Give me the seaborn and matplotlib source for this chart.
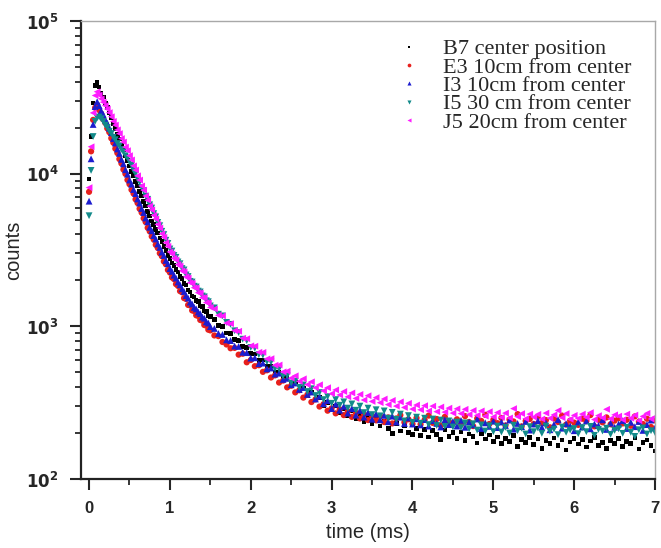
import numpy as np
import pandas as pd
import seaborn as sns
import matplotlib.pyplot as plt
from matplotlib.ticker import FixedLocator, FixedFormatter, MultipleLocator, NullFormatter

# sampling grid of the decay measurement (ms)
time_ms = np.round(np.concatenate([np.arange(0, 1.5001, 0.025),
                                   np.arange(1.55, 7.0001, 0.05)]), 3)

# counts, one list per detector position
b7 = [9200, 17500, 29000, 37800,
      39600, 36900, 33800, 31700, 29100, 27200, 25000,
      23300, 21200, 19800, 18100, 16900, 15400, 14350, 13100, 12200, 11250,
      10350, 9680, 8900, 8310, 7640, 7140, 6560, 6140, 5630, 5280,
      4890, 4640, 4300, 4090, 3780, 3590, 3320, 3150, 2920, 2770,
      2600, 2510, 2350, 2270, 2120, 2050, 1910, 1860, 1730, 1680,
      1580, 1560, 1470, 1450, 1360, 1350, 1260, 1250, 1170, 1160,
      1110, 1010, 995, 905, 893, 821, 806, 738, 725, 662,
      659, 598, 601, 547, 550, 497, 502, 455, 461, 415,
      428, 381, 395, 352, 367, 329, 341, 304, 318, 283,
      301, 270, 288, 259, 279, 247, 266, 238, 257, 229,
      246, 222, 239, 214, 198, 231, 206, 222, 201, 196,
      215, 193, 211, 188, 207, 196, 182, 209, 190, 201,
      184, 203, 178, 197, 189, 172, 199, 183, 194, 176,
      188, 170, 184, 176, 192, 163, 181, 174, 187, 168,
      183, 159, 178, 171, 186, 166, 180, 155, 175, 184,
      169, 181, 162, 177, 187, 165, 174, 158, 179, 171,
      184, 163, 176, 170, 186, 157, 173, 180, 166, 152]

e3 = [7600, 14000, 22500, 27000,
      28200, 26100, 24700, 22700, 21500, 19800, 18700,
      17050, 15950, 14580, 13650, 12460, 11670, 10640, 9970, 9100, 8530,
      7840, 7410, 6790, 6420, 5890, 5560, 5100, 4820, 4420, 4190,
      3880, 3700, 3420, 3260, 3010, 2880, 2660, 2550, 2340, 2250,
      2090, 2040, 1890, 1840, 1700, 1670, 1530, 1510, 1380, 1370,
      1270, 1260, 1180, 1170, 1100, 1090, 1020, 1010, 950, 940,
      871, 862, 789, 760, 718, 722, 652, 661, 581, 601,
      548, 556, 503, 515, 462, 477, 428, 441, 398, 408,
      369, 381, 341, 356, 319, 332, 298, 309, 280, 290,
      269, 286, 262, 277, 255, 271, 249, 265, 243, 259,
      242, 258, 236, 253, 231, 249, 262, 235, 246, 229,
      251, 228, 244, 260, 233, 247, 224, 255, 238, 231,
      246, 227, 258, 236, 222, 249, 240, 263, 229, 244,
      232, 251, 224, 245, 238, 266, 221, 240, 247, 229,
      255, 232, 243, 218, 249, 236, 260, 227, 241, 234,
      226, 248, 239, 262, 221, 244, 235, 253, 228, 241,
      250, 231, 244, 223, 257, 237, 229, 248, 219, 242]

i3 = [6600, 12500, 21000, 27500,
      29600, 27900, 25800, 24400, 22600, 21400, 19850,
      18550, 16950, 15860, 14500, 13560, 12400, 11590, 10600, 9910, 9080,
      8530, 7870, 7400, 6820, 6410, 5910, 5560, 5120, 4830, 4450,
      4220, 3930, 3730, 3460, 3290, 3060, 2910, 2700, 2570, 2390,
      2290, 2160, 2070, 1950, 1870, 1760, 1690, 1590, 1530, 1440,
      1400, 1330, 1300, 1240, 1210, 1150, 1130, 1070, 1050, 995,
      968, 897, 884, 815, 806, 742, 738, 676, 672, 619,
      622, 569, 574, 526, 533, 486, 493, 449, 456, 414,
      425, 386, 397, 358, 371, 334, 348, 311, 326, 289,
      309, 282, 299, 270, 289, 262, 281, 254, 272, 246,
      266, 244, 261, 237, 258, 236, 254, 231, 251, 229,
      248, 226, 245, 222, 241, 231, 219, 244, 227, 238,
      222, 242, 218, 236, 226, 247, 214, 233, 221, 239,
      217, 236, 224, 243, 212, 231, 220, 238, 209, 229,
      241, 218, 233, 210, 228, 245, 215, 230, 222, 207,
      236, 219, 240, 213, 229, 224, 244, 211, 232, 218,
      229, 241, 214, 235, 220, 238, 208, 227, 243, 216]

i5 = [5300, 10500, 17500, 22000,
      23200, 23500, 22900, 21950, 20800, 20050, 18950,
      18300, 17300, 16700, 15750, 15230, 14380, 13880, 13100, 12670, 11950,
      11350, 10500, 9980, 9220, 8790, 8100, 7730, 7120, 6790, 6250,
      5950, 5470, 5210, 4790, 4560, 4190, 3990, 3660, 3490, 3210,
      3110, 2910, 2830, 2640, 2570, 2390, 2340, 2170, 2120, 1970,
      1950, 1830, 1810, 1700, 1680, 1580, 1560, 1470, 1450, 1360,
      1320, 1200, 1170, 1060, 1030, 935, 910, 823, 805, 727,
      718, 652, 647, 586, 583, 527, 525, 472, 473, 425,
      437, 398, 413, 374, 390, 352, 368, 331, 346, 313,
      331, 304, 320, 291, 310, 282, 300, 272, 291, 264,
      284, 259, 279, 250, 273, 246, 266, 240, 260, 235,
      254, 232, 250, 227, 247, 224, 243, 221, 240, 219,
      236, 217, 233, 213, 230, 209, 226, 206, 223, 204,
      222, 203, 218, 200, 225, 207, 215, 197, 220, 204,
      216, 199, 222, 205, 212, 195, 219, 202, 209, 214,
      198, 217, 204, 221, 193, 211, 206, 215, 196, 208,
      213, 199, 218, 202, 190, 210, 216, 197, 207, 201]

j5 = [8100, 15000, 25000, 32500,
      34400, 32700, 30900, 29400, 27900, 26500, 25100,
      23600, 22000, 20800, 19350, 18300, 16980, 16100, 14930, 14140, 13120,
      12300, 11250, 10560, 9680, 9080, 8310, 7800, 7140, 6700, 6130,
      5790, 5330, 5050, 4650, 4400, 4040, 3830, 3530, 3340, 3070,
      2980, 2790, 2720, 2540, 2480, 2310, 2270, 2110, 2070, 1930,
      1910, 1790, 1780, 1660, 1650, 1540, 1540, 1430, 1420, 1330,
      1300, 1180, 1170, 1050, 1040, 936, 928, 835, 829, 745,
      741, 676, 675, 612, 614, 556, 558, 503, 508, 458,
      474, 436, 453, 415, 433, 396, 414, 378, 396, 362,
      383, 355, 374, 345, 366, 337, 358, 329, 351, 322,
      341, 316, 334, 307, 327, 300, 320, 294, 313, 287,
      305, 284, 302, 279, 300, 276, 296, 274, 291, 270,
      288, 268, 286, 264, 281, 261, 279, 258, 276, 255,
      272, 253, 270, 251, 289, 256, 268, 248, 266, 254,
      265, 247, 270, 250, 263, 281, 252, 268, 246, 261,
      249, 266, 253, 272, 245, 260, 251, 286, 248, 263,
      258, 244, 266, 250, 262, 241, 257, 269, 247, 255]

labels = ['B7 center position', 'E3 10cm from center', 'I3 10cm from center',
          'I5 30 cm from center', 'J5 20cm from center']
colors = ['#000000', '#e8201c', '#1c1ccf', '#128a8a', '#ff1cff']
markers = ['s', 'o', '^', 'v', '<']
msizes = [11, 20, 24, 24, 24]

frames = []
for lab, vals in zip(labels, [b7, e3, i3, i5, j5]):
    frames.append(pd.DataFrame({'time': time_ms, 'counts': vals, 'sample': lab}))
df = pd.concat(frames, ignore_index=True)

sns.set_style('ticks')
plt.rcParams['font.family'] = ['Liberation Sans', 'DejaVu Sans']

fig = plt.figure(figsize=(6.61, 5.48), dpi=100)
ax = fig.add_axes([0.1225, 0.126, 0.8685, 0.8357])

sns.scatterplot(data=df, x='time', y='counts', hue='sample', style='sample', size='sample',
                palette=dict(zip(labels, colors)), markers=dict(zip(labels, markers)),
                sizes=dict(zip(labels, msizes)), linewidth=0, ax=ax)

ax.set_yscale('log')
ax.set_ylim(100, 1e5)
ax.set_xlim(-0.1, 7)

# ticks
ax.xaxis.set_major_locator(MultipleLocator(1))
ax.xaxis.set_minor_locator(MultipleLocator(0.5))
ax.yaxis.set_major_locator(FixedLocator([1e2, 1e3, 1e4, 1e5]))
ax.yaxis.set_major_formatter(FixedFormatter([r'$\mathbf{10^{2}}$', r'$\mathbf{10^{3}}$',
                                             r'$\mathbf{10^{4}}$', r'$\mathbf{10^{5}}$']))
minors = [m * 10 ** e for e in [2, 3, 4] for m in range(2, 10)]
ax.yaxis.set_minor_locator(FixedLocator(minors))
ax.yaxis.set_minor_formatter(NullFormatter())
ax.tick_params(which='major', direction='out', length=8, width=1.5, labelsize=12, pad=8)
ax.tick_params(which='minor', direction='out', length=4, width=1.3)
for t in ax.get_xticklabels():
    t.set_fontweight('bold')

for side in ['left', 'bottom']:
    ax.spines[side].set_linewidth(1.6)
    ax.spines[side].set_color('#222222')
for side in ['top', 'right']:
    ax.spines[side].set_linewidth(1.0)
    ax.spines[side].set_color('#a8a8a8')

ax.set_xlabel('time (ms)', fontsize=14.5, labelpad=5)
ax.set_ylabel('counts', fontsize=14.5, labelpad=2)

handles, labs = ax.get_legend_handles_labels()
ax.legend(handles, labs, loc='upper right', frameon=False,
          prop={'family': 'Liberation Serif', 'size': 16},
          markerscale=0.6, handletextpad=0.5, labelspacing=-0.1,
          borderaxespad=0.3, bbox_to_anchor=(0.985, 0.995))

fig.savefig('out.png', dpi=100)
